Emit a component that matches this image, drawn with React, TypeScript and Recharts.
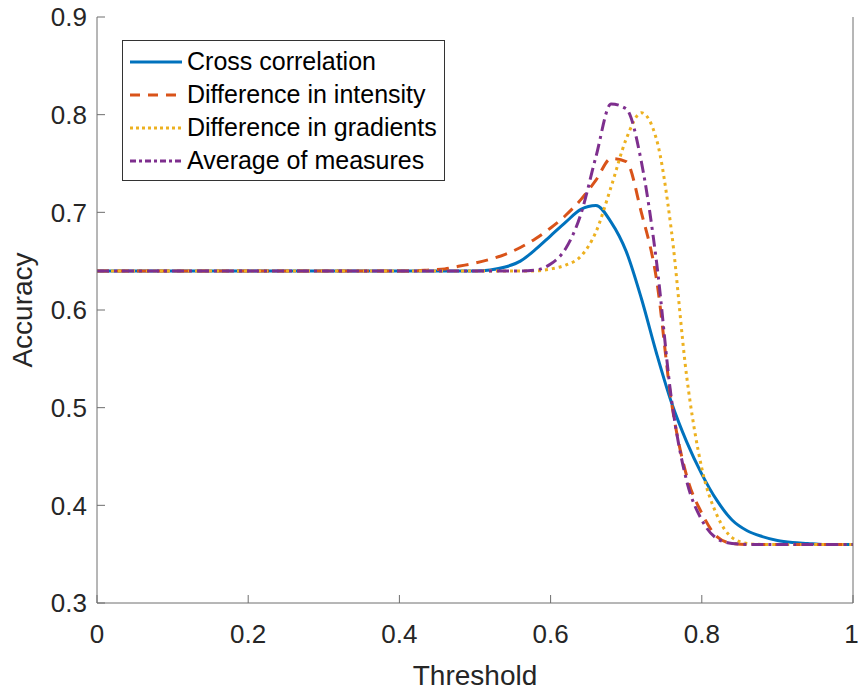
import React from 'react'
import { LineChart, Line, XAxis, YAxis, Legend } from 'recharts'

const thresholds = [
  0, 0.02, 0.04, 0.06, 0.08, 0.1, 0.12, 0.14, 0.16, 0.18,
  0.2, 0.22, 0.24, 0.26, 0.28, 0.3, 0.32, 0.34, 0.36, 0.38,
  0.4, 0.42, 0.44, 0.46, 0.48, 0.5, 0.52, 0.54, 0.56, 0.58,
  0.6, 0.62, 0.64, 0.66, 0.68, 0.7, 0.72, 0.74, 0.76, 0.78,
  0.8, 0.82, 0.84, 0.86, 0.88, 0.9, 0.92, 0.94, 0.96, 0.98, 1,
]

const crossCorrelation = [
  0.64, 0.64, 0.64, 0.64, 0.64, 0.64, 0.64, 0.64, 0.64, 0.64,
  0.64, 0.64, 0.64, 0.64, 0.64, 0.64, 0.64, 0.64, 0.64, 0.64,
  0.64, 0.64, 0.64, 0.64, 0.64, 0.64, 0.641, 0.644, 0.65, 0.662,
  0.676, 0.69, 0.703, 0.707, 0.69, 0.66, 0.612, 0.556, 0.505, 0.465,
  0.432, 0.405, 0.385, 0.374, 0.368, 0.364, 0.362, 0.361, 0.36, 0.36, 0.36,
]

const diffIntensity = [
  0.64, 0.64, 0.64, 0.64, 0.64, 0.64, 0.64, 0.64, 0.64, 0.64,
  0.64, 0.64, 0.64, 0.64, 0.64, 0.64, 0.64, 0.64, 0.64, 0.64,
  0.64, 0.64, 0.641, 0.642, 0.645, 0.648, 0.652, 0.657, 0.664, 0.673,
  0.684, 0.697, 0.713, 0.733, 0.755, 0.752, 0.7, 0.632, 0.505, 0.43,
  0.392, 0.368, 0.361, 0.36, 0.36, 0.36, 0.36, 0.36, 0.36, 0.36, 0.36,
]

const diffGradients = [
  0.64, 0.64, 0.64, 0.64, 0.64, 0.64, 0.64, 0.64, 0.64, 0.64,
  0.64, 0.64, 0.64, 0.64, 0.64, 0.64, 0.64, 0.64, 0.64, 0.64,
  0.64, 0.64, 0.64, 0.64, 0.64, 0.64, 0.64, 0.64, 0.64, 0.64,
  0.642, 0.646, 0.655, 0.68, 0.726, 0.775, 0.802, 0.775, 0.68, 0.532,
  0.438, 0.39, 0.367, 0.361, 0.36, 0.36, 0.36, 0.36, 0.36, 0.36, 0.36,
]

const averageMeasures = [
  0.64, 0.64, 0.64, 0.64, 0.64, 0.64, 0.64, 0.64, 0.64, 0.64,
  0.64, 0.64, 0.64, 0.64, 0.64, 0.64, 0.64, 0.64, 0.64, 0.64,
  0.64, 0.64, 0.64, 0.64, 0.64, 0.64, 0.64, 0.64, 0.64, 0.641,
  0.647, 0.663, 0.698, 0.757, 0.811, 0.806, 0.752, 0.65, 0.508, 0.425,
  0.385, 0.366, 0.361, 0.36, 0.36, 0.36, 0.36, 0.36, 0.36, 0.36, 0.36,
]

const xTicks = [0, 0.2, 0.4, 0.6, 0.8, 1]
const yTicks = [0.3, 0.4, 0.5, 0.6, 0.7, 0.8, 0.9]

const SERIES = [
  { key: 'cc', name: 'Cross correlation', color: '#0072BD', dash: undefined as string | undefined, legendDash: undefined as string | undefined },
  { key: 'di', name: 'Difference in intensity', color: '#D95319', dash: '12 8', legendDash: '10 8' },
  { key: 'dg', name: 'Difference in gradients', color: '#EDB120', dash: '3 4', legendDash: '3 3' },
  { key: 'am', name: 'Average of measures', color: '#7E2F8E', dash: '12 5 3 5', legendDash: '6 3 3 3' },
]

const data = thresholds.map((t, i) => ({
  t,
  cc: crossCorrelation[i],
  di: diffIntensity[i],
  dg: diffGradients[i],
  am: averageMeasures[i],
}))

const FONT = '"Liberation Sans", Arial, sans-serif'
const AXIS = '#6e6e6e'
const TEXT = '#262626'

const LegendBox = () => (
  <div style={{
    width: 321, height: 135, border: '1px solid #333', background: '#fff',
    fontFamily: FONT, fontSize: 25, color: '#000', boxSizing: 'content-box',
    paddingTop: 4,
  }}>
    {SERIES.map(s => (
      <div key={s.key} style={{ display: 'flex', alignItems: 'center', height: 33 }}>
        <svg width={64} height={12} style={{ flex: 'none' }}>
          <line x1={7} x2={59} y1={6} y2={6} stroke={s.color} strokeWidth={3}
            strokeDasharray={s.legendDash} />
        </svg>
        <span style={{ whiteSpace: 'nowrap' }}>{s.name}</span>
      </div>
    ))}
  </div>
)

const YLabel = (props: any) => {
  const { viewBox } = props
  const cy = viewBox.y + viewBox.height / 2
  return (
    <text x={32} y={cy} transform={`rotate(-90, 32, ${cy})`} textAnchor="middle"
      fill={TEXT} fontSize={28} fontFamily={FONT}>Accuracy</text>
  )
}

export default function App() {
  return (
    <div style={{ position: 'absolute', left: 0, top: 0, background: '#fff' }}>
      <LineChart width={858} height={691} data={data}
        margin={{ top: 17, right: 0, bottom: 0, left: 0 }}>
        <XAxis type="number" dataKey="t" domain={[0, 1]} ticks={xTicks}
          tickFormatter={v => String(v)} stroke={AXIS} tickSize={-8} tickMargin={30}
          height={88} tick={{ fill: TEXT, fontSize: 26, fontFamily: FONT }}
          label={{ value: 'Threshold', position: 'insideBottom', offset: 6, fill: TEXT, fontSize: 28, fontFamily: FONT }} />
        <XAxis xAxisId="top" orientation="top" type="number" dataKey="t" domain={[0, 1]}
          ticks={xTicks} stroke={AXIS} tickSize={-8} height={0} tick={false} />
        <YAxis type="number" domain={[0.3, 0.9]} ticks={yTicks} width={97}
          tickFormatter={v => String(v)} stroke={AXIS} tickSize={-8} tickMargin={18}
          tick={{ fill: TEXT, fontSize: 26, fontFamily: FONT }}
          label={<YLabel />} />
        <YAxis yAxisId="right" orientation="right" type="number" domain={[0.3, 0.9]}
          ticks={yTicks} width={5} stroke={AXIS} tickSize={-8} tick={false} />
        <Legend layout="vertical" align="center" verticalAlign="middle"
          wrapperStyle={{ left: 122, top: 40, width: 323 }} content={() => <LegendBox />} />
        {SERIES.map(s => (
          <Line key={s.key} type="monotone" dataKey={s.key} name={s.name} stroke={s.color}
            strokeWidth={3} strokeDasharray={s.dash} dot={false} activeDot={false}
            isAnimationActive={false} />
        ))}
      </LineChart>
    </div>
  )
}
